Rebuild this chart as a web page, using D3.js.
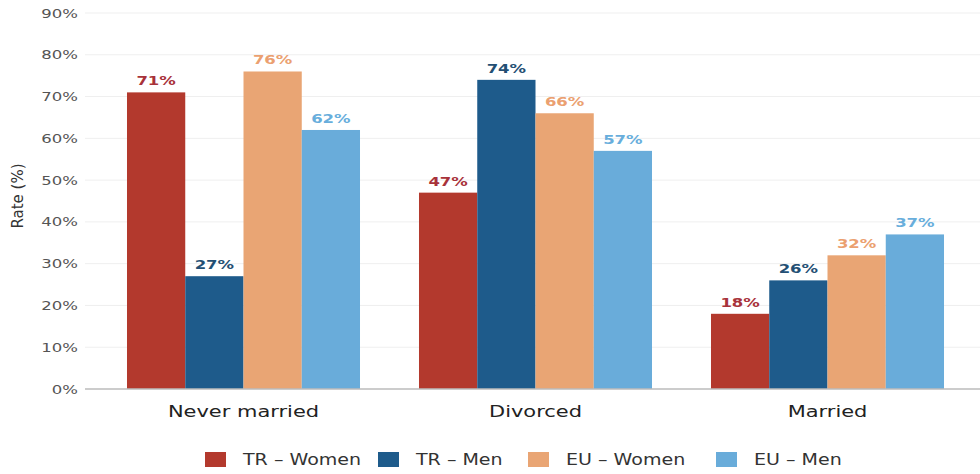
<!DOCTYPE html>
<html><head><meta charset="utf-8">
<script src="https://cdn.jsdelivr.net/npm/d3@7"></script>
<style>body{margin:0;background:#fff;}svg{display:block;}svg text{font-family:"DejaVu Sans",sans-serif;}</style>
</head><body><svg id="c" width="980" height="474"></svg>
<script>
const categories = ["Never married", "Divorced", "Married"];
const seriesNames = ["TR – Women", "TR – Men", "EU – Women", "EU – Men"];
const trWomen = [71, 47, 18];
const trMen = [27, 74, 26];
const euWomen = [76, 66, 32];
const euMen = [62, 57, 37];
const yTicks = [0, 10, 20, 30, 40, 50, 60, 70, 80, 90];
const colors = ["#b3392d", "#1e5b8b", "#e9a574", "#69acda"];
const labelColors = ["#a8323a", "#234f74", "#eba070", "#68aedc"];

const series = [trWomen, trMen, euWomen, euMen];
const SX = 1.27; // horizontal stretch of the reference text
const svg = d3.select("#c");
const y = d3.scaleLinear().domain([0, 90]).range([389, 13]);
const x0 = d3.scaleBand().domain(categories).range([97.5, 973.5]).paddingInner(0.202).paddingOuter(0.101);
const x1 = d3.scaleBand().domain(seriesNames).range([0, x0.bandwidth()]).padding(0);

function stext(parent, x, yy, str, opts) {
  const g = parent.append("g").attr("transform", `translate(${x},${yy}) scale(${SX},1)`);
  return g.append("text").attr("text-anchor", opts.anchor || "start")
    .attr("font-size", opts.size).attr("font-weight", opts.weight || "normal")
    .attr("fill", opts.fill).attr("dy", opts.dy || 0).text(str);
}

// grid
svg.append("g").selectAll("line").data(yTicks.filter(d => d > 0)).join("line")
  .attr("x1", 85).attr("x2", 980).attr("y1", d => y(d)).attr("y2", d => y(d))
  .attr("stroke", "#efefef").attr("stroke-width", 1);

// y tick labels
const ya = svg.append("g");
yTicks.forEach(t => stext(ya, 78, y(t), t + "%", {anchor: "end", size: 13, fill: "#555", dy: "0.35em"}));

// bars
const g = svg.append("g");
categories.forEach((cat, ci) => {
  series.forEach((s, si) => {
    const xx = x0(cat) + x1(seriesNames[si]);
    g.append("rect").attr("x", xx).attr("y", y(s[ci]))
      .attr("width", x1.bandwidth()).attr("height", y(0) - y(s[ci]))
      .attr("fill", colors[si]);
    stext(g, xx + x1.bandwidth() / 2, y(s[ci]) - 7, s[ci] + "%",
      {anchor: "middle", size: 13, weight: "bold", fill: labelColors[si]});
  });
});

// baseline
svg.append("line").attr("x1", 85).attr("x2", 980).attr("y1", y(0)).attr("y2", y(0))
  .attr("stroke", "#bbb").attr("stroke-width", 1.5);

// x category labels
const xa = svg.append("g");
categories.forEach(c => stext(xa, x0(c) + x0.bandwidth() / 2, 417, c, {anchor: "middle", size: 16.5, fill: "#222"}));

// y label
svg.append("text").attr("transform", "translate(23,196) rotate(-90)")
  .attr("text-anchor", "middle").attr("font-size", 15).attr("fill", "#333").text("Rate (%)");

// legend
const legX = [205, 378, 528, 716];
const leg = svg.append("g");
seriesNames.forEach((n, i) => {
  leg.append("rect").attr("x", legX[i]).attr("y", 452).attr("width", 21).attr("height", 15).attr("fill", colors[i]);
  stext(leg, legX[i] + 38, 465, n, {size: 15, fill: "#333"});
});
</script></body></html>
